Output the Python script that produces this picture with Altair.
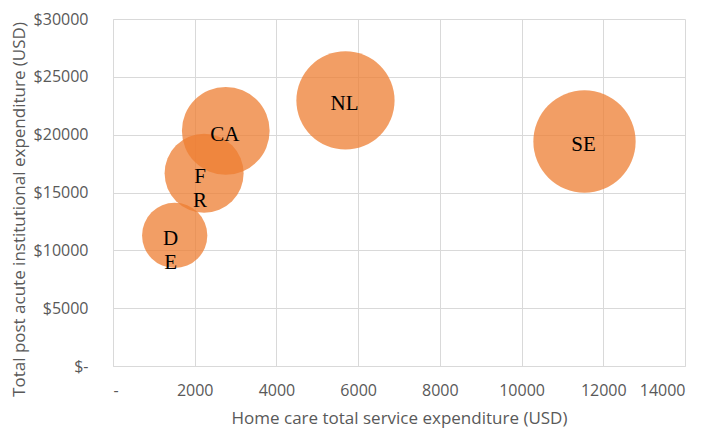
import altair as alt
import pandas as pd

# Data
countries = ["DE", "FR", "CA", "NL", "SE"]
label_text = ["D\nE", "F\nR", "CA", "NL", "SE"]
home_care = [1510, 2230, 2760, 5690, 11540]          # Home care total service expenditure (USD)
institutional = [11290, 16660, 20330, 22960, 19410]  # Total post acute institutional expenditure (USD)
bubble_size = [40.7, 59.7, 73.6, 92.2, 100.0]        # relative bubble size

df = pd.DataFrame({
    "country": countries,
    "label": label_text,
    "home": home_care,
    "inst": institutional,
    "size": bubble_size,
})

AXIS_FONT = "Open Sans"
TEXT_GRAY = "#595959"
GRID = "#D9D9D9"

x_enc = alt.X(
    "home:Q",
    scale=alt.Scale(domain=[0, 14000], nice=False, zero=True),
    axis=alt.Axis(
        values=[0, 2000, 4000, 6000, 8000, 10000, 12000, 14000],
        labelExpr="datum.value == 0 ? '-' : format(datum.value, 'd')",
        title="Home care total service expenditure (USD)",
        grid=True, gridColor=GRID, gridWidth=1,
        domainColor=GRID, domainWidth=1,
        ticks=False,
        labelFont=AXIS_FONT, labelFontSize=16, labelColor=TEXT_GRAY,
        labelPadding=16,
        titleFont=AXIS_FONT, titleFontSize=17, titleColor=TEXT_GRAY,
        titleFontWeight="normal",
        titleX=286, titleY=57, titleBaseline="alphabetic", titleAlign="center",
    ),
)
y_enc = alt.Y(
    "inst:Q",
    scale=alt.Scale(domain=[0, 30000], nice=False, zero=True),
    axis=alt.Axis(
        values=[0, 5000, 10000, 15000, 20000, 25000, 30000],
        labelExpr="datum.value == 0 ? '$-\u00a0' : '$' + format(datum.value, 'd')",
        title="Total post acute institutional expenditure (USD)",
        grid=True, gridColor=GRID, gridWidth=1,
        domainColor=GRID, domainWidth=1,
        ticks=False,
        labelFont=AXIS_FONT, labelFontSize=16, labelColor=TEXT_GRAY,
        labelPadding=25, labelBaseline="middle",
        titleFont=AXIS_FONT, titleFontSize=17, titleColor=TEXT_GRAY,
        titleFontWeight="normal",
        titleX=-89, titleY=190, titleBaseline="alphabetic", titleAlign="center",
        titleAngle=270,
    ),
)

base = alt.Chart(df)

bubbles = base.mark_circle(color="#ED7D31", opacity=0.75, stroke=None).encode(
    x=x_enc,
    y=y_enc,
    size=alt.Size("size:Q", scale=alt.Scale(domain=[0, 100], range=[0, 10459], zero=True), legend=None),
)

single = base.transform_filter("indexof(datum.label, '\\n') < 0").mark_text(
    font="Liberation Serif", fontSize=21, color="#000000", baseline="middle", align="center", dy=4, dx=-1,
).encode(x="home:Q", y="inst:Q", text="label:N")

double = base.transform_filter("indexof(datum.label, '\\n') >= 0").mark_text(
    font="Liberation Serif", fontSize=21, color="#000000", baseline="middle", align="center",
    dy=4, dx=-4, lineBreak="\n", lineHeight=24,
).encode(x="home:Q", y="inst:Q", text="label:N")

chart = alt.layer(bubbles, single, double).properties(
    width=572, height=347,
    autosize="none",
    padding={"left": 105, "top": 11, "right": 16, "bottom": 62},
).configure_view(stroke=None)

chart.save("out.html", embed_options={"renderer": "svg", "actions": False})
